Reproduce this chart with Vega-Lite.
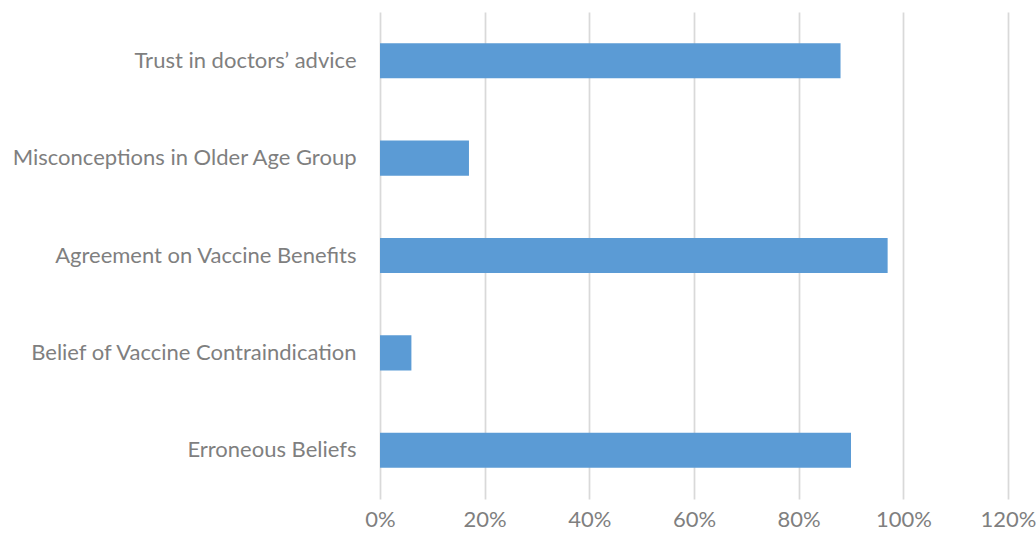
{
  "$schema": "https://vega.github.io/schema/vega-lite/v6.json",
  "autosize": "none",
  "width": 628,
  "height": 487,
  "padding": {"left": 380, "top": 12, "right": 28, "bottom": 39},
  "background": "white",
  "config": {"view": {"stroke": null}},
  "data": {"values": [
    {"category": "Trust in doctors’ advice", "value": 0.88},
    {"category": "Misconceptions in Older Age Group", "value": 0.17},
    {"category": "Agreement on Vaccine Benefits", "value": 0.97},
    {"category": "Belief of Vaccine Contraindication", "value": 0.06},
    {"category": "Erroneous Beliefs", "value": 0.90}
  ]},
  "mark": {"type": "bar", "color": "#5B9BD5"},
  "encoding": {
    "y": {
      "field": "category", "type": "nominal", "sort": null,
      "scale": {"paddingInner": 0.64, "paddingOuter": 0.32},
      "axis": {"title": null, "domain": false, "ticks": false, "labelPadding": 24, "labelFont": "Lato", "labelFontSize": 22, "labelColor": "#7f7f7f", "labelLimit": 400}
    },
    "x": {
      "field": "value", "type": "quantitative",
      "scale": {"domain": [0, 1.2], "nice": false},
      "axis": {"title": null, "format": ".0%", "values": [0, 0.2, 0.4, 0.6, 0.8, 1.0, 1.2], "domain": false, "ticks": false, "labelPadding": 10, "labelFont": "Lato", "labelFontSize": 22, "labelColor": "#7f7f7f", "gridColor": "#d9d9d9", "gridWidth": 1.75, "labelFlush": false}
    }
  }
}
